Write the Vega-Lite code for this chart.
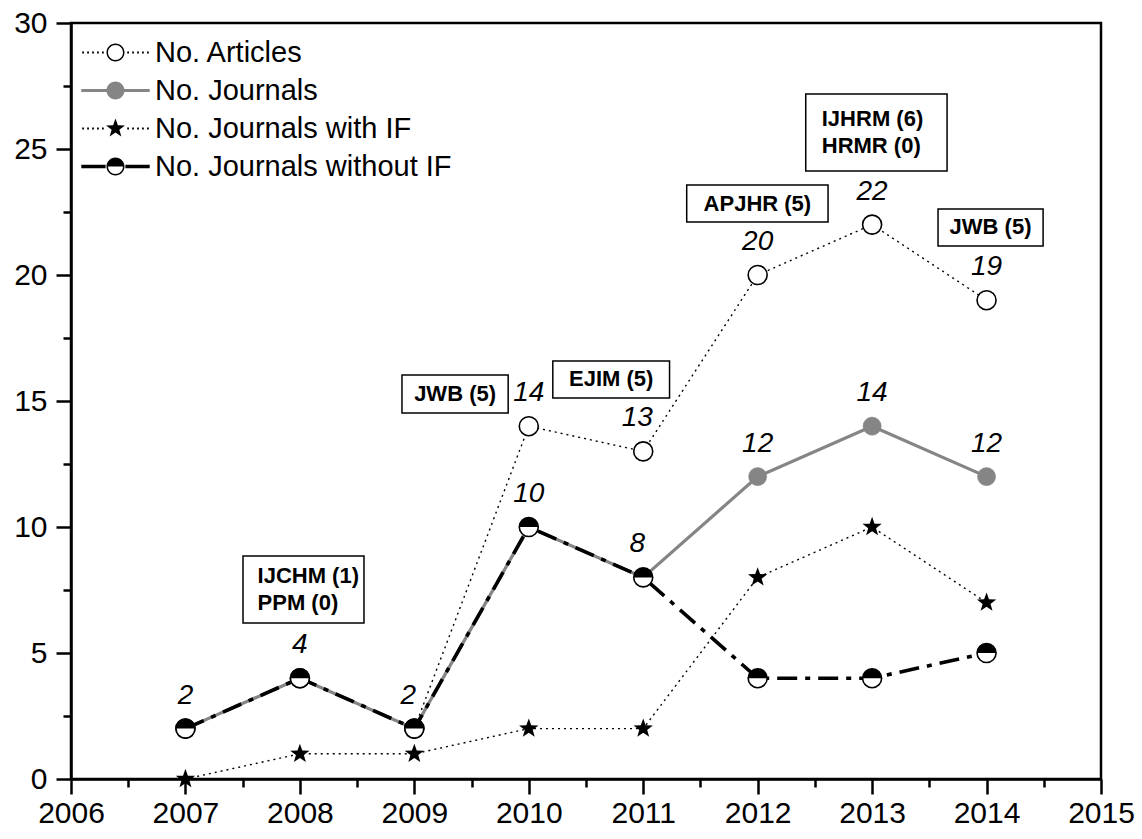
{
  "$schema": "https://vega.github.io/schema/vega-lite/v6.json",
  "width": 1030,
  "height": 756,
  "autosize": {"type": "none"},
  "padding": {"left": 71, "top": 23, "right": 41, "bottom": 60},
  "background": "white",
  "config": {
    "font": "Liberation Sans",
    "view": {"stroke": "black", "strokeWidth": 2.5},
    "axis": {"grid": false, "domainColor": "black", "domainWidth": 2.5, "tickColor": "black", "tickWidth": 2.5, "labelColor": "black", "labelFont": "Liberation Sans", "labelFontSize": 30, "labelOverlap": false, "labelFlush": false, "labelBound": false}
  },
  "datasets": {
    "series": [
      {"series": "No. Articles", "year": 2007, "value": 2},
      {"series": "No. Articles", "year": 2008, "value": 4},
      {"series": "No. Articles", "year": 2009, "value": 2},
      {"series": "No. Articles", "year": 2010, "value": 14},
      {"series": "No. Articles", "year": 2011, "value": 13},
      {"series": "No. Articles", "year": 2012, "value": 20},
      {"series": "No. Articles", "year": 2013, "value": 22},
      {"series": "No. Articles", "year": 2014, "value": 19},
      {"series": "No. Journals", "year": 2007, "value": 2},
      {"series": "No. Journals", "year": 2008, "value": 4},
      {"series": "No. Journals", "year": 2009, "value": 2},
      {"series": "No. Journals", "year": 2010, "value": 10},
      {"series": "No. Journals", "year": 2011, "value": 8},
      {"series": "No. Journals", "year": 2012, "value": 12},
      {"series": "No. Journals", "year": 2013, "value": 14},
      {"series": "No. Journals", "year": 2014, "value": 12},
      {"series": "No. Journals with IF", "year": 2007, "value": 0},
      {"series": "No. Journals with IF", "year": 2008, "value": 1},
      {"series": "No. Journals with IF", "year": 2009, "value": 1},
      {"series": "No. Journals with IF", "year": 2010, "value": 2},
      {"series": "No. Journals with IF", "year": 2011, "value": 2},
      {"series": "No. Journals with IF", "year": 2012, "value": 8},
      {"series": "No. Journals with IF", "year": 2013, "value": 10},
      {"series": "No. Journals with IF", "year": 2014, "value": 7},
      {"series": "No. Journals without IF", "year": 2007, "value": 2},
      {"series": "No. Journals without IF", "year": 2008, "value": 4},
      {"series": "No. Journals without IF", "year": 2009, "value": 2},
      {"series": "No. Journals without IF", "year": 2010, "value": 10},
      {"series": "No. Journals without IF", "year": 2011, "value": 8},
      {"series": "No. Journals without IF", "year": 2012, "value": 4},
      {"series": "No. Journals without IF", "year": 2013, "value": 4},
      {"series": "No. Journals without IF", "year": 2014, "value": 5}
    ],
    "boxes": [
      {"text": "IJCHM (1)\nPPM (0)", "x1": 2007.503, "x2": 2008.56, "y1": 8.85, "y2": 6.19, "tx": 2007.63, "ty": 7.52, "lines": 2},
      {"text": "JWB (5)", "x1": 2008.892, "x2": 2009.82, "y1": 16.03, "y2": 14.52, "tx": 2009.356, "ty": 15.275, "lines": 1},
      {"text": "EJIM (5)", "x1": 2010.21, "x2": 2011.23, "y1": 16.59, "y2": 15.12, "tx": 2010.72, "ty": 15.855, "lines": 1},
      {"text": "APJHR (5)", "x1": 2011.38, "x2": 2012.615, "y1": 23.57, "y2": 22.1, "tx": 2011.9975, "ty": 22.835, "lines": 1},
      {"text": "IJHRM (6)\nHRMR (0)", "x1": 2012.42, "x2": 2013.655, "y1": 27.18, "y2": 24.13, "tx": 2012.56, "ty": 25.655, "lines": 2},
      {"text": "JWB (5)", "x1": 2013.576, "x2": 2014.494, "y1": 22.62, "y2": 21.15, "tx": 2014.035, "ty": 21.885, "lines": 1}
    ]
  },
  "layer": [
    {
      "data": {"name": "series"},
      "transform": [{"filter": "datum.series === 'No. Articles'"}],
      "mark": {"type": "line", "color": "black", "strokeWidth": 1.4, "strokeDash": [2, 4]},
      "encoding": {
        "x": {"field": "year", "type": "quantitative", "title": null, "scale": {"domain": [2006, 2015], "nice": false, "zero": false},
          "axis": {"values": [2006, 2006.5, 2007, 2007.5, 2008, 2008.5, 2009, 2009.5, 2010, 2010.5, 2011, 2011.5, 2012, 2012.5, 2013, 2013.5, 2014, 2014.5, 2015],
            "labelExpr": "datum.value % 1 === 0 ? format(datum.value, 'd') : ''",
            "tickSize": {"expr": "datum.value % 1 === 0 ? 15 : 8"}, "labelPadding": 4}},
        "y": {"field": "value", "type": "quantitative", "title": null, "scale": {"domain": [0, 30], "nice": false, "zero": true},
          "axis": {"values": [0, 2.5, 5, 7.5, 10, 12.5, 15, 17.5, 20, 22.5, 25, 27.5, 30],
            "labelExpr": "datum.value % 5 === 0 ? format(datum.value, 'd') : ''",
            "tickSize": {"expr": "datum.value % 5 === 0 ? 15 : 8"}, "labelPadding": 9}}
      }
    },
    {
      "data": {"name": "series"},
      "transform": [{"filter": "datum.series === 'No. Journals with IF'"}],
      "mark": {"type": "line", "color": "black", "strokeWidth": 1.4, "strokeDash": [2, 4]},
      "encoding": {"x": {"field": "year", "type": "quantitative", "title": null}, "y": {"field": "value", "type": "quantitative", "title": null}}
    },
    {
      "data": {"name": "series"},
      "transform": [{"filter": "datum.series === 'No. Journals'"}],
      "mark": {"type": "line", "color": "#858585", "strokeWidth": 3.2},
      "encoding": {"x": {"field": "year", "type": "quantitative", "title": null}, "y": {"field": "value", "type": "quantitative", "title": null}}
    },
    {
      "data": {"name": "series"},
      "transform": [{"filter": "datum.series === 'No. Journals without IF'"}],
      "mark": {"type": "line", "color": "black", "strokeWidth": 3.6, "strokeDash": [20, 8, 5, 8]},
      "encoding": {"x": {"field": "year", "type": "quantitative", "title": null}, "y": {"field": "value", "type": "quantitative", "title": null}}
    },
    {
      "data": {"name": "series"},
      "transform": [{"filter": "datum.series === 'No. Articles'"}],
      "mark": {"type": "point", "shape": "circle", "fill": "white", "stroke": "black", "strokeWidth": 1.6, "size": 361, "opacity": 1},
      "encoding": {"x": {"field": "year", "type": "quantitative", "title": null}, "y": {"field": "value", "type": "quantitative", "title": null}}
    },
    {
      "data": {"name": "series"},
      "transform": [{"filter": "datum.series === 'No. Journals'"}],
      "mark": {"type": "point", "shape": "circle", "fill": "#858585", "stroke": "#858585", "strokeWidth": 0.5, "size": 330, "opacity": 1},
      "encoding": {"x": {"field": "year", "type": "quantitative", "title": null}, "y": {"field": "value", "type": "quantitative", "title": null}}
    },
    {
      "data": {"name": "series"},
      "transform": [{"filter": "datum.series === 'No. Journals with IF'"}],
      "mark": {"type": "point", "shape": "M0,-1.1L0.265,-0.364L1.046,-0.34L0.428,0.139L0.647,0.89L0,0.45L-0.647,0.89L-0.428,0.139L-1.046,-0.34L-0.265,-0.364Z", "fill": "black", "strokeWidth": 0, "size": 340, "opacity": 1},
      "encoding": {"x": {"field": "year", "type": "quantitative", "title": null}, "y": {"field": "value", "type": "quantitative", "title": null}}
    },
    {
      "data": {"name": "series"},
      "transform": [{"filter": "datum.series === 'No. Journals without IF'"}],
      "mark": {"type": "point", "shape": "circle", "fill": "white", "stroke": "black", "strokeWidth": 1.6, "size": 361, "opacity": 1},
      "encoding": {"x": {"field": "year", "type": "quantitative", "title": null}, "y": {"field": "value", "type": "quantitative", "title": null}}
    },
    {
      "data": {"name": "series"},
      "transform": [{"filter": "datum.series === 'No. Journals without IF'"}],
      "mark": {"type": "point", "shape": "M-1,0A1,1 0 0,1 1,0Z", "fill": "black", "strokeWidth": 0, "size": 361, "opacity": 1},
      "encoding": {"x": {"field": "year", "type": "quantitative", "title": null}, "y": {"field": "value", "type": "quantitative", "title": null}}
    },
    {
      "data": {"name": "series"},
      "mark": {"type": "point", "filled": true, "opacity": 0, "size": 324, "strokeWidth": 0},
      "encoding": {
        "x": {"field": "year", "type": "quantitative", "title": null},
        "y": {"field": "value", "type": "quantitative", "title": null},
        "shape": {"field": "series", "type": "nominal", "title": null,
          "scale": {"domain": ["No. Articles", "No. Journals", "No. Journals with IF", "No. Journals without IF"],
            "range": [
              "M-3.7,-0.1h0.2v0.2h-0.2ZM-3.15,-0.1h0.2v0.2h-0.2ZM-2.6,-0.1h0.2v0.2h-0.2ZM-2.05,-0.1h0.2v0.2h-0.2ZM-1.5,-0.1h0.2v0.2h-0.2ZM1.3,-0.1h0.2v0.2h-0.2ZM1.85,-0.1h0.2v0.2h-0.2ZM2.4,-0.1h0.2v0.2h-0.2ZM2.95,-0.1h0.2v0.2h-0.2ZM3.5,-0.1h0.2v0.2h-0.2ZM1,0A1,1 0 1,1 -1,0A1,1 0 1,1 1,0ZM0.83,0A0.83,0.83 0 1,0 -0.83,0A0.83,0.83 0 1,0 0.83,0Z",
              "M-3.8,-0.17L-0.9,-0.17L-0.9,0.17L-3.8,0.17ZM0.9,-0.17L3.8,-0.17L3.8,0.17L0.9,0.17ZM1,0A1,1 0 1,1 -1,0A1,1 0 1,1 1,0Z",
              "M-3.7,-0.1h0.2v0.2h-0.2ZM-3.15,-0.1h0.2v0.2h-0.2ZM-2.6,-0.1h0.2v0.2h-0.2ZM-2.05,-0.1h0.2v0.2h-0.2ZM-1.5,-0.1h0.2v0.2h-0.2ZM1.3,-0.1h0.2v0.2h-0.2ZM1.85,-0.1h0.2v0.2h-0.2ZM2.4,-0.1h0.2v0.2h-0.2ZM2.95,-0.1h0.2v0.2h-0.2ZM3.5,-0.1h0.2v0.2h-0.2ZM0,-1.1L0.265,-0.364L1.046,-0.34L0.428,0.139L0.647,0.89L0,0.45L-0.647,0.89L-0.428,0.139L-1.046,-0.34L-0.265,-0.364Z",
              "M-3.8,-0.2L-1.1,-0.2L-1.1,0.2L-3.8,0.2ZM1.1,-0.2L3.8,-0.2L3.8,0.2L1.1,0.2ZM-1,0A1,1 0 0,1 1,0ZM1,0A1,1 0 0,1 -1,0L-0.83,0A0.83,0.83 0 0,0 0.83,0Z"
            ]},
          "legend": {"orient": "none", "legendX": 30, "legendY": 15, "padding": 0, "symbolSize": 324, "symbolOpacity": 1, "symbolStrokeWidth": 0,
            "labelFont": "Liberation Sans", "labelFontSize": 29, "labelColor": "black", "labelOffset": 25, "rowPadding": 8, "labelLimit": 600}},
        "fill": {"field": "series", "type": "nominal", "title": null,
          "scale": {"domain": ["No. Articles", "No. Journals", "No. Journals with IF", "No. Journals without IF"], "range": ["black", "#858585", "black", "black"]}}
      }
    },
    {
      "data": {"name": "series"},
      "transform": [{"filter": "(datum.series === 'No. Journals' || (datum.series === 'No. Articles' && datum.year >= 2010)) && datum.year !== 2009 && datum.year !== 2011"}],
      "mark": {"type": "text", "font": "Liberation Sans", "fontStyle": "italic", "fontSize": 28, "color": "black", "dy": -33, "baseline": "middle", "align": "center"},
      "encoding": {"x": {"field": "year", "type": "quantitative", "title": null}, "y": {"field": "value", "type": "quantitative", "title": null}, "text": {"field": "value", "type": "quantitative"}}
    },
    {
      "data": {"name": "series"},
      "transform": [{"filter": "(datum.series === 'No. Journals' || (datum.series === 'No. Articles' && datum.year >= 2010)) && (datum.year === 2009 || datum.year === 2011)"}],
      "mark": {"type": "text", "font": "Liberation Sans", "fontStyle": "italic", "fontSize": 28, "color": "black", "dy": -33, "dx": -6, "baseline": "middle", "align": "center"},
      "encoding": {"x": {"field": "year", "type": "quantitative", "title": null}, "y": {"field": "value", "type": "quantitative", "title": null}, "text": {"field": "value", "type": "quantitative"}}
    },
    {
      "data": {"name": "boxes"},
      "mark": {"type": "rect", "fill": "white", "stroke": "black", "strokeWidth": 1.5},
      "encoding": {"x": {"field": "x1", "type": "quantitative", "title": null}, "x2": {"field": "x2"}, "y": {"field": "y1", "type": "quantitative", "title": null}, "y2": {"field": "y2"}}
    },
    {
      "data": {"name": "boxes"},
      "transform": [{"filter": "datum.lines === 1"}],
      "mark": {"type": "text", "font": "Liberation Sans", "fontWeight": "bold", "fontSize": 22, "color": "black", "align": "center", "baseline": "middle"},
      "encoding": {"x": {"field": "tx", "type": "quantitative", "title": null}, "y": {"field": "ty", "type": "quantitative", "title": null}, "text": {"field": "text"}}
    },
    {
      "data": {"name": "boxes"},
      "transform": [{"filter": "datum.lines === 2"}],
      "mark": {"type": "text", "font": "Liberation Sans", "fontWeight": "bold", "fontSize": 22, "color": "black", "align": "left", "baseline": "middle", "lineBreak": "\n", "lineHeight": 27, "dy": -13},
      "encoding": {"x": {"field": "tx", "type": "quantitative", "title": null}, "y": {"field": "ty", "type": "quantitative", "title": null}, "text": {"field": "text"}}
    }
  ]
}
